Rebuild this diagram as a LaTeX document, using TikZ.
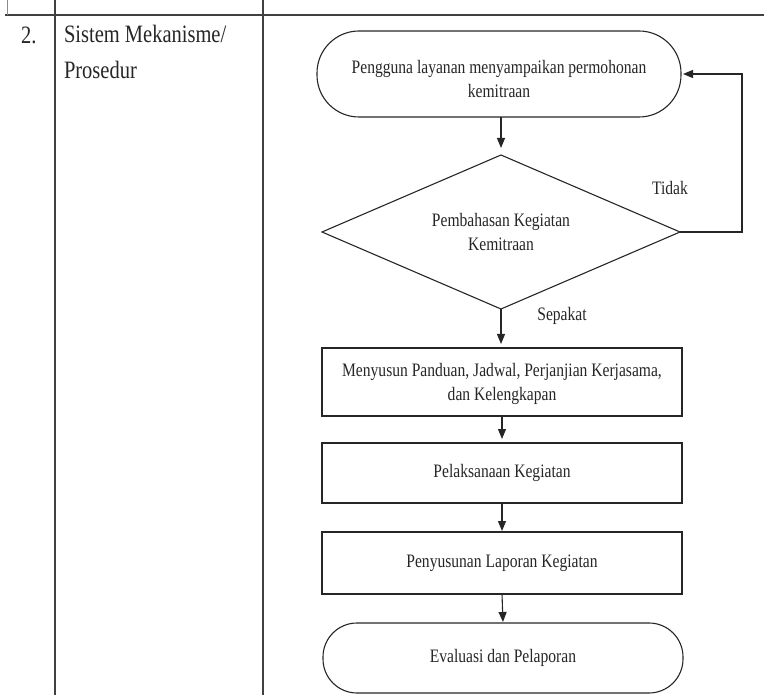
\documentclass[tikz,border=0pt]{standalone}
\usepackage{fontspec}
\setmainfont{Liberation Serif}[FakeStretch=0.82]
\usetikzlibrary{arrows.meta,shapes.geometric}
\definecolor{ink}{HTML}{262626}
\begin{document}
\begin{tikzpicture}[x=1pt,y=-1pt,
  every node/.style={inner sep=0pt,outer sep=0pt,text=ink},
  flowtxt/.style={font=\fontsize{19}{23.5}\selectfont,align=center},
  term/.style={draw=ink,line width=1.1pt,rectangle,flowtxt},
  procbox/.style={draw=ink,line width=1.1pt,rectangle,minimum width=360pt,flowtxt},
  decbox/.style={draw=ink,line width=1.1pt,diamond,aspect=2.32,minimum width=358pt,minimum height=154pt,flowtxt},
  conn/.style={draw=ink,line width=1.1pt,-{Triangle[length=10pt,width=8pt]}},
  tbl/.style={draw=black!75,line width=1.2pt}]
\useasboundingbox (0,0) rectangle (764,695);
% table lines
\coordinate (hl) at (5,15);
\coordinate (hr) at (764,15);
\coordinate (t0) at (7,0);
\coordinate (t1) at (7,15);
\coordinate (v1a) at (55,0);
\coordinate (v1b) at (55,695);
\coordinate (v2a) at (263,0);
\coordinate (v2b) at (263,695);
\draw[tbl,line width=1.6pt] (hl) -- (hr);
\draw[tbl,draw=black!45,line width=0.8pt] (t0) -- (t1);
\draw[tbl] (v1a) -- (v1b);
\draw[tbl] (v2a) -- (v2b);
% left column text
\node[anchor=west,font=\fontsize{25}{36}\selectfont] (num) at (21,35) {2.};
\node[anchor=west,align=left,font=\fontsize{25}{36}\selectfont] (title) at (64,52) {Sistem Mekanisme/\\Prosedur};
% flowchart
\node[term,rounded corners=42pt,minimum width=364pt,minimum height=86pt] (start) at (499,74) {};
\node[flowtxt] (starttxt) at (499,79) {Pengguna layanan menyampaikan permohonan\\kemitraan};
\node[decbox] (dec) at (501,232) {Pembahasan Kegiatan\\Kemitraan};
\node[procbox,minimum height=68pt] (b1) at (502,382) {};
\node[flowtxt] (b1txt) at (502,384) {Menyusun Panduan, Jadwal, Perjanjian Kerjasama,\\dan Kelengkapan};
\node[procbox,minimum height=60pt] (b2) at (502,473) {Pelaksanaan Kegiatan};
\node[procbox,minimum height=62pt] (b3) at (502,563) {Penyusunan Laporan Kegiatan};
\node[term,rounded corners=34pt,minimum width=360pt,minimum height=70pt] (end) at (503,658) {Evaluasi dan Pelaporan};
\node[font=\fontsize{19}{22}\selectfont] (tidak) at (670,188) {Tidak};
\node[font=\fontsize{19}{22}\selectfont] (sepakat) at (562,316) {Sepakat};
\coordinate (lp) at (742,232);
\draw[conn,shorten >=7pt] (start.south -| dec.north) -- (dec.north);
\draw[conn,shorten >=4pt] (dec.south) -- (dec.south |- b1.north);
\draw[conn,shorten >=4pt] (b1.south) -- (b2.north);
\draw[conn,shorten >=1pt] (b2.south) -- (b3.north);
\draw[conn,shorten >=1pt] (b3.south) -- (end.north);
\draw[conn,shorten >=2pt] (dec.east) -- (lp) |- (start.east);
\end{tikzpicture}
\end{document}
